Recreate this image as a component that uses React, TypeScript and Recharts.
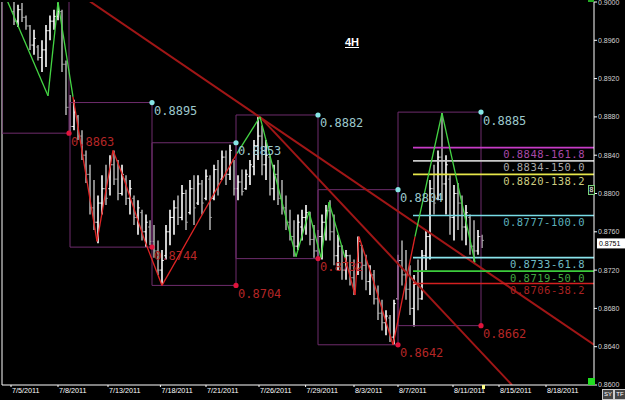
import React from 'react';
import { ComposedChart, Bar, XAxis, YAxis, ReferenceLine, ReferenceDot } from 'recharts';

// ---- 4H bars (one entry per bar, first bar index = FIRST_BAR) ----
const FIRST_BAR = 3;
const highs = [
  0.9000, 0.8997, 0.8999, 0.8986, 0.8976, 0.8971, 0.8955, 0.8960, 0.8976, 0.8986,
  0.8992, 0.8999, 0.8992, 0.8939, 0.8903, 0.8898, 0.8882, 0.8866, 0.8845, 0.8830,
  0.8814, 0.8798, 0.8819, 0.8830, 0.8840, 0.8845, 0.8835, 0.8830, 0.8819, 0.8814,
  0.8798, 0.8793, 0.8783, 0.8778, 0.8772, 0.8767, 0.8751, 0.8741, 0.8767, 0.8783,
  0.8793, 0.8798, 0.8809, 0.8804, 0.8814, 0.8819, 0.8819, 0.8814, 0.8825, 0.8819,
  0.8830, 0.8835, 0.8845, 0.8845, 0.8851, 0.8835, 0.8819, 0.8825, 0.8825, 0.8835,
  0.8856, 0.8880, 0.8871, 0.8856, 0.8840, 0.8830, 0.8835, 0.8814, 0.8798, 0.8783,
  0.8772, 0.8778, 0.8783, 0.8788, 0.8781, 0.8767, 0.8762, 0.8778, 0.8788, 0.8793,
  0.8778, 0.8757, 0.8746, 0.8741, 0.8736, 0.8731, 0.8755, 0.8746, 0.8736, 0.8725,
  0.8720, 0.8704, 0.8689, 0.8678, 0.8673, 0.8689, 0.8736, 0.8751, 0.8741, 0.8725,
  0.8715, 0.8731, 0.8741, 0.8762, 0.8814, 0.8830, 0.8845, 0.8884, 0.8840, 0.8819,
  0.8809, 0.8811, 0.8798, 0.8788, 0.8778, 0.8772, 0.8762, 0.8757,
];
const lows = [
  0.8976, 0.8974, 0.8979, 0.8971, 0.8950, 0.8945, 0.8939, 0.8927, 0.8932, 0.8960,
  0.8971, 0.8981, 0.8927, 0.8882, 0.8863, 0.8866, 0.8856, 0.8835, 0.8811, 0.8778,
  0.8762, 0.8748, 0.8778, 0.8788, 0.8798, 0.8809, 0.8793, 0.8798, 0.8788, 0.8778,
  0.8767, 0.8757, 0.8751, 0.8744, 0.8746, 0.8733, 0.8715, 0.8704, 0.8731, 0.8746,
  0.8757, 0.8767, 0.8772, 0.8762, 0.8778, 0.8767, 0.8788, 0.8778, 0.8793, 0.8762,
  0.8793, 0.8798, 0.8814, 0.8809, 0.8814, 0.8798, 0.8793, 0.8798, 0.8804, 0.8809,
  0.8819, 0.8835, 0.8819, 0.8814, 0.8798, 0.8793, 0.8788, 0.8778, 0.8762, 0.8751,
  0.8734, 0.8741, 0.8751, 0.8757, 0.8746, 0.8733, 0.8733, 0.8731, 0.8751, 0.8751,
  0.8725, 0.8720, 0.8710, 0.8710, 0.8704, 0.8694, 0.8715, 0.8710, 0.8699, 0.8694,
  0.8684, 0.8668, 0.8657, 0.8652, 0.8645, 0.8642, 0.8689, 0.8704, 0.8689, 0.8673,
  0.8661, 0.8678, 0.8689, 0.8720, 0.8731, 0.8778, 0.8793, 0.8793, 0.8778, 0.8757,
  0.8751, 0.8762, 0.8751, 0.8746, 0.8736, 0.8728, 0.8736, 0.8743,
];
const opens = [
  0.8990, 0.8980, 0.8992, 0.8984, 0.8975, 0.8955, 0.8953, 0.8942, 0.8950, 0.8970,
  0.8980, 0.8985, 0.8990, 0.8935, 0.8890, 0.8870, 0.8880, 0.8860, 0.8840, 0.8820,
  0.8785, 0.8770, 0.8790, 0.8805, 0.8805, 0.8830, 0.8815, 0.8800, 0.8815, 0.8795,
  0.8795, 0.8775, 0.8780, 0.8760, 0.8765, 0.8750, 0.8740, 0.8720, 0.8735, 0.8760,
  0.8775, 0.8785, 0.8775, 0.8800, 0.8780, 0.8805, 0.8790, 0.8810, 0.8795, 0.8815,
  0.8795, 0.8825, 0.8815, 0.8838, 0.8820, 0.8835, 0.8805, 0.8812, 0.8805, 0.8818,
  0.8828, 0.8850, 0.8860, 0.8830, 0.8838, 0.8805, 0.8820, 0.8795, 0.8785, 0.8770,
  0.8755, 0.8745, 0.8765, 0.8775, 0.8778, 0.8752, 0.8740, 0.8755, 0.8770, 0.8782,
  0.8760, 0.8735, 0.8745, 0.8720, 0.8735, 0.8712, 0.8718, 0.8746, 0.8725, 0.8708,
  0.8715, 0.8690, 0.8675, 0.8665, 0.8670, 0.8650, 0.8690, 0.8730, 0.8715, 0.8700,
  0.8680, 0.8705, 0.8690, 0.8735, 0.8755, 0.8805, 0.8795, 0.8838, 0.8810, 0.8815,
  0.8775, 0.8800, 0.8790, 0.8765, 0.8775, 0.8745, 0.8740, 0.8755,
];
const closes = [
  0.8980, 0.8992, 0.8984, 0.8975, 0.8955, 0.8962, 0.8942, 0.8950, 0.8970, 0.8980,
  0.8985, 0.8990, 0.8935, 0.8890, 0.8870, 0.8885, 0.8860, 0.8840, 0.8820, 0.8785,
  0.8770, 0.8790, 0.8805, 0.8795, 0.8830, 0.8815, 0.8800, 0.8820, 0.8795, 0.8805,
  0.8775, 0.8785, 0.8760, 0.8770, 0.8750, 0.8740, 0.8720, 0.8730, 0.8760, 0.8775,
  0.8785, 0.8775, 0.8800, 0.8770, 0.8805, 0.8785, 0.8810, 0.8790, 0.8818, 0.8775,
  0.8825, 0.8810, 0.8838, 0.8820, 0.8845, 0.8805, 0.8812, 0.8802, 0.8820, 0.8830,
  0.8850, 0.8860, 0.8830, 0.8840, 0.8805, 0.8820, 0.8795, 0.8785, 0.8770, 0.8755,
  0.8745, 0.8770, 0.8775, 0.8780, 0.8752, 0.8740, 0.8755, 0.8770, 0.8782, 0.8760,
  0.8735, 0.8745, 0.8720, 0.8735, 0.8712, 0.8700, 0.8750, 0.8725, 0.8708, 0.8715,
  0.8690, 0.8675, 0.8665, 0.8672, 0.8650, 0.8685, 0.8730, 0.8715, 0.8700, 0.8680,
  0.8705, 0.8690, 0.8735, 0.8755, 0.8805, 0.8790, 0.8838, 0.8810, 0.8830, 0.8775,
  0.8800, 0.8790, 0.8765, 0.8780, 0.8745, 0.8740, 0.8755, 0.8751,
];
const lastPrice = 0.8751;

// ---- axes ----
const dateTicks = [2.25, 14, 26.5, 39.6, 51, 64.25, 75.9, 88, 99, 112.75, 124.25, 136];
const dateLabels = ['7/5/2011', '7/8/2011', '7/13/2011', '7/18/2011', '7/21/2011', '7/26/2011',
  '7/29/2011', '8/3/2011', '8/7/2011', '8/11/2011', '8/15/2011', '8/18/2011'];
const priceTicks = [0.86, 0.864, 0.868, 0.872, 0.876, 0.88, 0.884, 0.888, 0.892, 0.896, 0.9];

// ---- zigzag ----
const zigX = [1.25, 11.5, 14, 17.75, 23.75, 27.75, 30.25, 35.75, 40, 58.75, 64.5, 73.5,
  76.75, 79.75, 81.75, 85.75, 88.25, 89.25, 92.75, 97.75, 103.25, 110, 118.25];
const zigP = [0.9002, 0.8902, 0.9000, 0.8901, 0.8750, 0.8845, 0.8818, 0.8750, 0.8704, 0.8842,
  0.8880, 0.8734, 0.8781, 0.8733, 0.8791, 0.8733, 0.8694, 0.8755, 0.8710, 0.8642, 0.8755,
  0.8884, 0.8728];
const zigLegColor = ['g', 'g', 'g', 'r', 'r', 'r', 'r', 'r', 'r', 'g', 'g', 'g', 'g', 'g', 'g',
  'r', 'r', 'r', 'r', 'r', 'g', 'g'];

// ---- swing boxes ----
const boxLeft = [0, 17, 37.5, 58.5, 79, 99];
const boxRight = [16.75, 37.5, 58.5, 79, 99, 119.75];
const boxTop = [0.9010, 0.8895, 0.8853, 0.8882, 0.8804, 0.8885];
const boxBottom = [0.8863, 0.8744, 0.8704, 0.8732, 0.8642, 0.8662];

// ---- trend lines ----
const trendStartX = [21.5, 64.5];
const trendStartP = [0.9002, 0.8880];
const trendEndX = [148, 127.5];
const trendEndP = [0.8642, 0.8600];

// ---- fibonacci projection ----
const fibStart = 102.75;
const fibEnd = 148;
const fibLabelX = 145.75;
const fibPrices = [0.8848, 0.8834, 0.8820, 0.8777, 0.8733, 0.8719, 0.8706];
const fibLevels = ['161.8', '150.0', '138.2', '100.0', '61.8', '50.0', '38.2'];
const fibLineColors = ['#c83cc8', '#c8c8c8', '#e6e64a', '#78dce6', '#8ae4ec', '#3ccc3c', '#d42020'];
const fibTextColors = ['#a848a8', '#a8a8a8', '#cccc80', '#5cb0bc', '#70bcc4', '#40a840', '#a82222'];

const candles = highs.map((h, k) => ({
  i: FIRST_BAR + k,
  range: [lows[k], h],
  open: opens[k],
  close: closes[k],
}));

const MONO = '"DejaVu Sans Mono", monospace';
const SANS = '"Liberation Sans", Arial, sans-serif';
const BOX_COLOR = '#6e2c6c';
const GREEN = '#44d444';
const RED = '#e02424';
const TREND = '#a01616';
const CYAN_DOT = '#86e6e6';
const RED_DOT = '#e0143c';

const Candle = (props: any) => {
  const { x, y, width, height, payload } = props;
  if (x == null || y == null || !payload) return null;
  const top = Math.min(y, y + height);
  const h = Math.abs(height);
  const lo = payload.range[0];
  const hi = payload.range[1];
  const span = hi - lo || 1;
  const yo = top + ((hi - payload.open) / span) * h;
  const yc = top + ((hi - payload.close) / span) * h;
  const cx = Math.round(x + width / 2);
  const color = payload.close >= payload.open ? '#ffffff' : '#a8a8a8';
  return (
    <g>
      <line x1={cx} x2={cx} y1={top} y2={top + h} stroke={color} strokeWidth={1.6} />
      <line x1={cx - 1.8} x2={cx} y1={yo} y2={yo} stroke={color} strokeWidth={1} />
      <line x1={cx} x2={cx + 1.8} y1={yc} y2={yc} stroke={color} strokeWidth={1} />
    </g>
  );
};

const DateTick = (props: any) => {
  const { x, y, payload } = props;
  const idx = dateTicks.indexOf(payload.value);
  return (
    <text x={x + 1} y={y + 6} fill="#ffffff" fontSize={7.2} fontFamily={SANS} textAnchor="start">
      {idx >= 0 ? dateLabels[idx] : ''}
    </text>
  );
};

export default function App() {
  const seg = (x1: number, y1: number, x2: number, y2: number, stroke: string, w: number, key: string) => (
    <ReferenceLine
      key={key}
      segment={[{ x: x1, y: y1 }, { x: x2, y: y2 }]}
      stroke={stroke}
      strokeWidth={w}
      ifOverflow="hidden"
    />
  );

  const boxLines: any[] = [];
  boxLeft.forEach((l, k) => {
    const r = boxRight[k];
    const t = boxTop[k];
    const b = boxBottom[k];
    boxLines.push(seg(l, t, r, t, BOX_COLOR, 1, `bt${k}`));
    boxLines.push(seg(l, b, r, b, BOX_COLOR, 1, `bb${k}`));
    boxLines.push(seg(l, t, l, b, BOX_COLOR, 1, `bl${k}`));
    boxLines.push(seg(r, t, r, b, BOX_COLOR, 1, `br${k}`));
  });

  const zigLines = zigLegColor.map((c, k) =>
    seg(zigX[k], zigP[k], zigX[k + 1], zigP[k + 1], c === 'g' ? GREEN : RED, 1.3, `z${k}`)
  );

  const trendLines = trendStartX.map((x, k) =>
    seg(x, trendStartP[k], trendEndX[k], trendEndP[k], TREND, 2, `t${k}`)
  );

  const fibLines = fibPrices.map((p, k) => seg(fibStart, p, fibEnd, p, fibLineColors[k], 1.7, `f${k}`));

  const fibLabels = fibPrices.map((p, k) => (
    <ReferenceDot
      key={`fl${k}`}
      x={fibLabelX}
      y={p}
      r={1}
      ifOverflow="visible"
      shape={(s: any) => (
        <text x={s.cx} y={s.cy + 10.5} fill={fibTextColors[k]} fontSize={10.5} letterSpacing={0.5} fontFamily={MONO} textAnchor="end">
          {`${p.toFixed(4)}-${fibLevels[k]}`}
        </text>
      )}
    />
  ));

  const dots: any[] = [];
  boxRight.forEach((r, k) => {
    const t = boxTop[k];
    const b = boxBottom[k];
    if (t <= 0.9) {
      dots.push(
        <ReferenceDot
          key={`ct${k}`}
          x={r}
          y={t}
          r={2.6}
          ifOverflow="visible"
          shape={(s: any) => (
            <g>
              <circle cx={s.cx} cy={s.cy} r={2.6} fill={CYAN_DOT} />
              <text x={s.cx + 2} y={s.cy + 12.5} fill="#9cc8cc" fontSize={12} fontFamily={MONO}>
                {t.toFixed(4)}
              </text>
            </g>
          )}
        />
      );
    }
    dots.push(
      <ReferenceDot
        key={`cb${k}`}
        x={r}
        y={b}
        r={2.6}
        ifOverflow="visible"
        shape={(s: any) => (
          <g>
            <circle cx={s.cx} cy={s.cy} r={2.6} fill={RED_DOT} />
            <text x={s.cx + 2} y={s.cy + 12.5} fill="#b42626" fontSize={12} fontFamily={MONO}>
              {b.toFixed(4)}
            </text>
          </g>
        )}
      />
    );
  });

  return (
    <div style={{ position: 'absolute', left: 0, top: 0, width: 625, height: 400, background: '#000000', overflow: 'hidden' }}>
      <ComposedChart
        width={625}
        height={400}
        data={candles}
        margin={{ top: 2, right: 0, bottom: 0, left: 2 }}
      >
        <XAxis
          dataKey="i"
          type="number"
          domain={[0, 148]}
          ticks={dateTicks}
          interval={0}
          allowDataOverflow
          height={15}
          stroke="#ffffff"
          tickSize={2}
          tickMargin={0}
          tick={<DateTick />}
        />
        <YAxis
          orientation="right"
          type="number"
          domain={[0.86, 0.9]}
          ticks={priceTicks}
          interval={0}
          allowDataOverflow
          width={31}
          stroke="#ffffff"
          tickSize={3}
          tickMargin={1}
          tick={{ fontSize: 7, fill: '#d4d4d4', fontFamily: SANS }}
          tickFormatter={(v: number) => v.toFixed(4)}
        />
        <ReferenceLine x={0} stroke="#ffffff" strokeWidth={1} ifOverflow="visible" />
        {boxLines}
        {trendLines}
        {fibLines}
        <Bar dataKey="range" barSize={3} shape={<Candle />} isAnimationActive={false} />
        {zigLines}
        {fibLabels}
        {dots}
        <ReferenceDot
          x={148}
          y={lastPrice}
          r={1}
          ifOverflow="visible"
          shape={(s: any) => (
            <g>
              <rect x={s.cx + 3} y={s.cy - 2} width={29} height={10} fill="#ffffff" />
              <text x={s.cx + 5} y={s.cy + 5.5} fill="#000000" fontSize={7} fontFamily={SANS}>
                {lastPrice.toFixed(4)}
              </text>
            </g>
          )}
        />
      </ComposedChart>
      <div style={{ position: 'absolute', left: 345, top: 36, color: '#ffffff', fontFamily: SANS, fontSize: 11, fontWeight: 'bold', textDecoration: 'underline', lineHeight: '12px' }}>
        4H
      </div>
      <div style={{ position: 'absolute', left: 588, top: 185, width: 5, height: 8, border: '1px solid #7ad27a', background: '#111', color: '#fff', fontSize: 7, lineHeight: '8px', fontFamily: SANS, textAlign: 'center' }}>8</div>
      <div style={{ position: 'absolute', left: 588, top: 378, width: 7, height: 7, background: '#22dd22' }} />
      <div style={{ position: 'absolute', left: 588, top: 0, width: 6, height: 2, background: '#22aa22' }} />
      <div style={{ position: 'absolute', left: 482, top: 385, width: 3, height: 4, background: '#ffff88' }} />
      <div style={{ position: 'absolute', left: 602, top: 389, width: 10, height: 9, background: '#444', border: '1px solid #ccc', color: '#fff', fontSize: 6, lineHeight: '9px', fontFamily: SANS, textAlign: 'center' }}>SY</div>
      <div style={{ position: 'absolute', left: 614, top: 389, width: 10, height: 9, background: '#444', border: '1px solid #ccc', color: '#fff', fontSize: 6, lineHeight: '9px', fontFamily: SANS, textAlign: 'center' }}>TF</div>
    </div>
  );
}
